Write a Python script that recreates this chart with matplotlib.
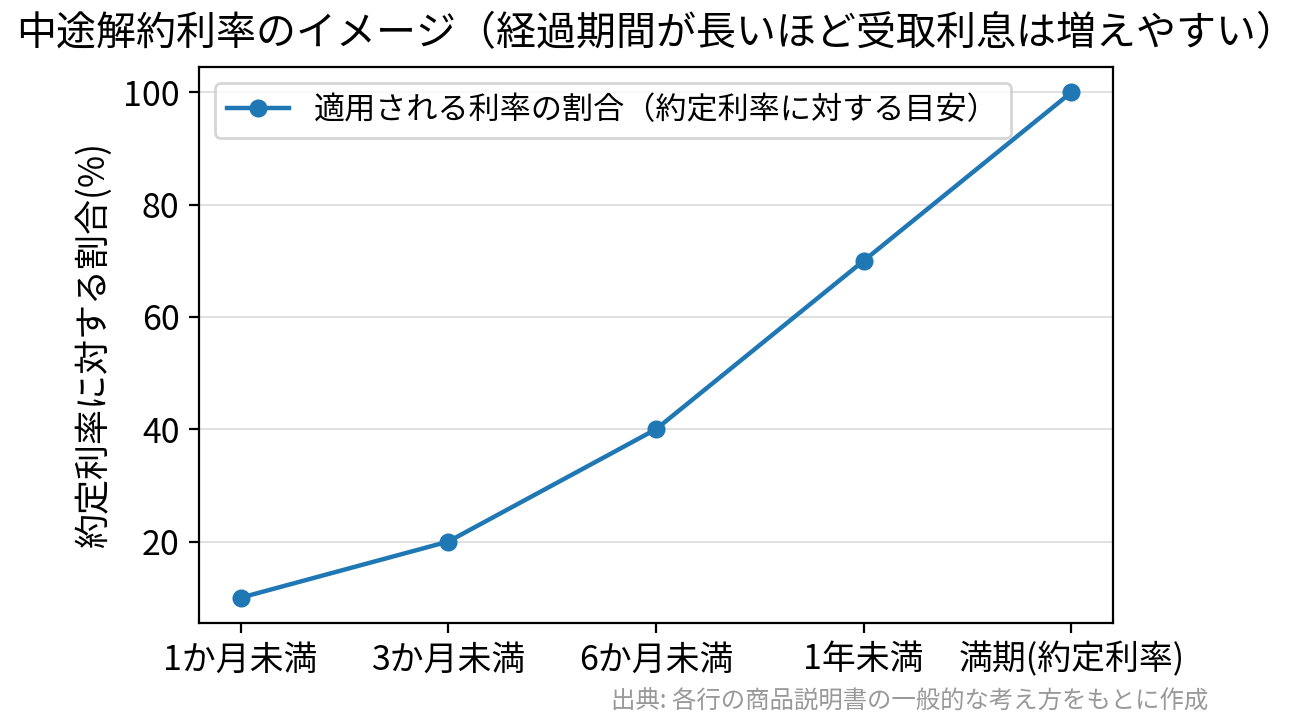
import matplotlib
matplotlib.use("Agg")
import matplotlib.pyplot as plt

plt.rcParams['font.family'] = ['Noto Sans CJK JP', 'DejaVu Sans']

periods = ['1か月未満', '3か月未満', '6か月未満', '1年未満', '満期(約定利率)']
ratio = [10, 20, 40, 70, 100]

fig, ax = plt.subplots(figsize=(6.56, 3.625), dpi=200)
fig.subplots_adjust(left=0.1517, right=0.8483, top=0.9076, bottom=0.1407)

ax.plot(periods, ratio, marker='o', color='#1f77b4', linewidth=1.6, markersize=5.5,
        label='適用される利率の割合（約定利率に対する目安）')
ax.set_title('中途解約利率のイメージ（経過期間が長いほど受取利息は増えやすい）', fontsize=14.4, pad=8)
ax.set_ylabel('約定利率に対する割合(%)', fontsize=12.6)
ax.tick_params(axis='both', labelsize=12.2)
ax.grid(axis='y', color='#e0e0e0', linewidth=0.7)
ax.set_axisbelow(True)
ax.legend(loc='upper left', fontsize=11.2)

fig.text(0.921, 0.014, '出典: 各行の商品説明書の一般的な考え方をもとに作成',
         ha='right', va='bottom', fontsize=8.8, color='#999999')

fig.savefig('out.png', dpi=200)
